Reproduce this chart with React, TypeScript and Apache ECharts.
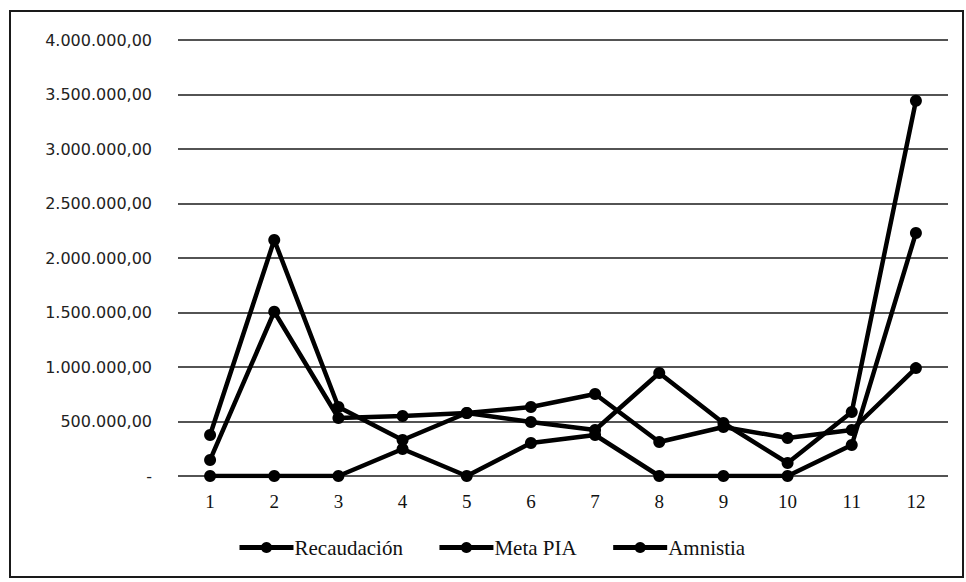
import React, { useEffect, useRef } from "react";
import * as echarts from "echarts";

const categories = ["1", "2", "3", "4", "5", "6", "7", "8", "9", "10", "11", "12"];
const recaudacion = [376000, 2165000, 633000, 330000, 578000, 633000, 752000, 312000, 450000, 349000, 422000, 990000];
const metaPIA = [147000, 1507000, 532000, 550000, 578000, 495000, 422000, 945000, 486000, 119000, 587000, 3443000];
const amnistia = [0, 0, 0, 248000, 0, 303000, 376000, 0, 0, 0, 284000, 2229000];
const seriesNames = ["Recaudación", "Meta PIA", "Amnistia"];

function fmt(v: number): string {
  if (v === 0) return "-";
  const s = Math.round(v).toString().replace(/\B(?=(\d{3})+(?!\d))/g, ".");
  return s + ",00";
}

export default function App() {
  const ref = useRef<HTMLDivElement>(null);
  useEffect(() => {
    if (!ref.current) return;
    const chart = echarts.init(ref.current, undefined, { renderer: "svg" });
    const mk = (name: string, data: number[]) => ({
      name,
      type: "line",
      data,
      symbol: "circle",
      symbolSize: 12,
      lineStyle: { color: "#000", width: 4.5 },
      itemStyle: { color: "#000" },
    });
    chart.setOption({
      animation: false,
      backgroundColor: "#fff",
      graphic: [
        {
          type: "rect",
          shape: { x: 10, y: 11, width: 953, height: 566 },
          style: { fill: "none", stroke: "#1a1a1a", lineWidth: 2 },
        },
      ],
      grid: { left: 178, right: 18, top: 40, bottom: 106 },
      xAxis: {
        type: "category",
        data: categories,
        boundaryGap: true,
        axisLine: { show: false },
        axisTick: { show: false },
        axisLabel: {
          color: "#111",
          fontFamily: "Liberation Serif",
          fontSize: 19,
          margin: 16,
        },
      },
      yAxis: {
        type: "value",
        min: 0,
        max: 4000000,
        interval: 500000,
        axisLine: { show: false },
        axisTick: { show: false },
        splitLine: { lineStyle: { color: "#1a1a1a", width: 1.5 } },
        axisLabel: {
          color: "#222",
          fontFamily: "DejaVu Sans",
          fontSize: 16,
          margin: 26,
          formatter: (v: number) => fmt(v),
        },
      },
      legend: {
        bottom: 19,
        left: 232,
        itemWidth: 54,
        itemHeight: 14,
        itemGap: 34,
        lineStyle: { width: 5 },
        textStyle: { color: "#111", fontFamily: "Liberation Serif", fontSize: 21, padding: [0, 0, 0, -4] },
        data: seriesNames,
      },
      series: [
        mk(seriesNames[0], recaudacion),
        mk(seriesNames[1], metaPIA),
        mk(seriesNames[2], amnistia),
      ],
    });
    return () => chart.dispose();
  }, []);
  return (
    <div
      ref={ref}
      style={{ position: "fixed", left: 0, top: 0, width: 966, height: 582, background: "#fff" }}
    />
  );
}
